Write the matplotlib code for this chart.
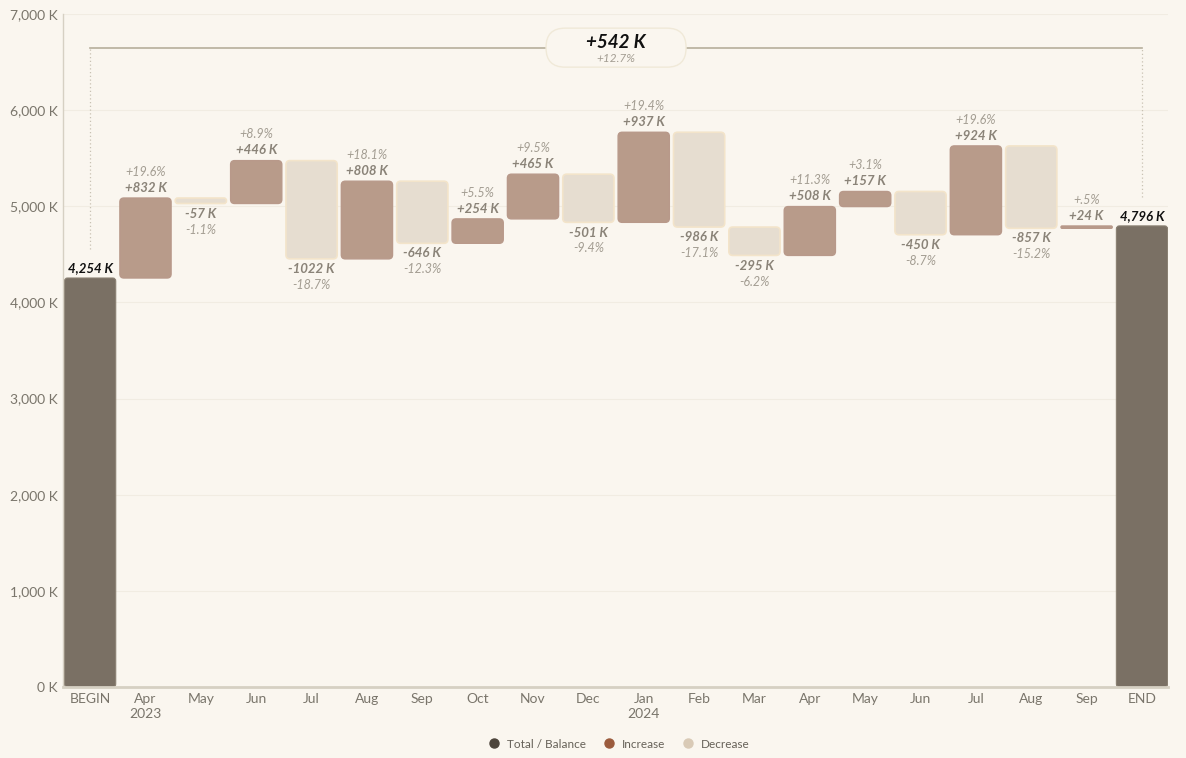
import matplotlib
matplotlib.use("Agg")
import matplotlib.pyplot as plt
from matplotlib.patches import FancyBboxPatch
from matplotlib.lines import Line2D
import numpy as np

# ---- data ----
categories = ["BEGIN", "Apr\n2023", "May", "Jun", "Jul", "Aug", "Sep", "Oct", "Nov", "Dec",
              "Jan\n2024", "Feb", "Mar", "Apr", "May", "Jun", "Jul", "Aug", "Sep", "END"]
begin_value = 4254
end_value = 4796
changes = [832, -57, 446, -1022, 808, -646, 254, 465, -501, 937, -986, -295, 508, 157, -450, 924, -857, 24]
pct_labels = ["+19.6%", "-1.1%", "+8.9%", "-18.7%", "+18.1%", "-12.3%", "+5.5%", "+9.5%", "-9.4%",
              "+19.4%", "-17.1%", "-6.2%", "+11.3%", "+3.1%", "-8.7%", "+19.6%", "-15.2%", "+.5%"]
total_change_label = "+542 K"
total_change_pct = "+12.7%"
yticks = [0, 1000, 2000, 3000, 4000, 5000, 6000, 7000]
bracket_level = 6650

# ---- style ----
BG = "#faf6ef"
C_TOTAL = "#7a7064"
C_INC = "#b89b8a"
C_INC_EDGE = "#b8998a"
C_DEC = "#e6ddd0"
C_DEC_EDGE = "#f3e4ca"
TXT = "#8a8378"
TXT_LIGHT = "#a39d92"

plt.rcParams['font.family'] = ['Lato', 'DejaVu Sans']

W, H = 1186, 758
fig = plt.figure(figsize=(W / 100, H / 100), dpi=100, facecolor=BG)
ax = fig.add_axes([63 / W, 1 - 687 / H, (1168 - 63) / W, (687 - 14) / H])
ax.set_facecolor(BG)

n = len(categories)
x = np.arange(n)
ax.set_xlim(-0.49, n - 1 + 0.47)
ax.set_ylim(0, 7000)

px_x = (ax.get_xlim()[1] - ax.get_xlim()[0]) / (1168 - 63)
px_y = 7000 / (687 - 14)
aspect = px_y / px_x

starts = [begin_value]
for c in changes[:-1]:
    starts.append(starts[-1] + c)
starts = np.array(starts)
ends = starts + np.array(changes)

width = 0.925

def rbar(xc, y0, y1, fc, ec, lw=1.0, r_px=4, alpha=1.0, z=2):
    lo, hi = min(y0, y1), max(y0, y1)
    h = hi - lo
    w = width
    r = min(r_px * px_x, (h / aspect) / 2.0 * 0.95)
    r = max(r, 0.0)
    p = FancyBboxPatch((xc - w / 2, lo), w, h,
                       boxstyle=f"round,pad=0,rounding_size={r}",
                       mutation_aspect=aspect, facecolor=fc, edgecolor=ec,
                       linewidth=lw, alpha=alpha, zorder=z)
    ax.add_patch(p)

rbar(x[0], 0, begin_value, C_TOTAL, "#8a8072", lw=0.8, r_px=3)
rbar(x[-1], 0, end_value, C_TOTAL, "#8a8072", lw=0.8, r_px=3)

for i, (s, e, c, pl) in enumerate(zip(starts, ends, changes, pct_labels)):
    xi = x[i + 1]
    amt = f"{c:+d} K"
    if c >= 0:
        rbar(xi, s, e, C_INC, C_INC_EDGE, lw=1.0)
        ax.annotate(amt, (xi, e), xytext=(0, 3), textcoords="offset points",
                    ha="center", va="bottom", fontsize=9.5, fontweight="bold",
                    fontstyle="italic", color=TXT)
        ax.annotate(pl, (xi, e), xytext=(0, 14.5), textcoords="offset points",
                    ha="center", va="bottom", fontsize=9, fontstyle="italic",
                    color=TXT_LIGHT)
    else:
        rbar(xi, s, e, C_DEC, C_DEC_EDGE, lw=1.2)
        ax.annotate(amt, (xi, e), xytext=(0, -3), textcoords="offset points",
                    ha="center", va="top", fontsize=9.5, fontweight="bold",
                    fontstyle="italic", color=TXT)
        ax.annotate(pl, (xi, e), xytext=(0, -14.5), textcoords="offset points",
                    ha="center", va="top", fontsize=9, fontstyle="italic",
                    color=TXT_LIGHT)

for xi, v in [(x[0], begin_value), (x[-1], end_value)]:
    ax.annotate(f"{v:,} K", (xi, v), xytext=(0, 3), textcoords="offset points",
                ha="center", va="bottom", fontsize=9.5, fontweight="bold",
                fontstyle="italic", color="#111111")

# bracket
ax.plot([x[0], x[-1]], [bracket_level, bracket_level], color="#b6ae9b", lw=1.2, zorder=3)
ax.plot([x[0], x[0]], [begin_value + 300, bracket_level], color="#c9c2b3", lw=0.9,
        ls=(0, (1, 2)), zorder=3)
ax.plot([x[-1], x[-1]], [end_value + 300, bracket_level], color="#c9c2b3", lw=0.9,
        ls=(0, (1, 2)), zorder=3)

mid = (x[0] + x[-1]) / 2
fig.canvas.draw()
cx, cy = ax.transData.transform((mid, bracket_level))
pw, ph = 140, 39
pill = FancyBboxPatch(((cx - pw / 2) / 100, (cy - ph / 2) / 100), pw / 100, ph / 100,
                      boxstyle="round,pad=0,rounding_size=0.19",
                      transform=fig.dpi_scale_trans, facecolor=BG, edgecolor="#f0e9d8",
                      linewidth=1.0, zorder=5)
fig.add_artist(pill)
fig.text(cx / W, (cy + 5) / H, total_change_label, ha="center", va="center",
         fontsize=13.5, fontweight="bold", fontstyle="italic", color="#111111", zorder=6)
fig.text(cx / W, (cy - 11) / H, total_change_pct, ha="center", va="center",
         fontsize=8.5, fontstyle="italic", color=TXT_LIGHT, zorder=6)

# axes styling
ax.set_xticks(x)
ax.set_xticklabels(categories, fontsize=10, color="#7a756b", linespacing=1.3)
ax.set_yticks(yticks)
ax.set_yticklabels([f"{v:,} K" for v in yticks], fontsize=10, color="#7a756b")
ax.tick_params(axis="both", length=0, pad=4)
ax.grid(axis="y", color="#f1ece2", lw=0.8, zorder=0)
ax.set_axisbelow(True)
for sp in ["top", "right"]:
    ax.spines[sp].set_visible(False)
ax.spines["left"].set_color("#d6d0c3")
ax.spines["left"].set_linewidth(1.0)
ax.spines["bottom"].set_color("#d6d0c3")
ax.spines["bottom"].set_linewidth(2.0)

# legend
handles = [Line2D([], [], marker="o", ls="", markersize=6.5, color="#4d453c"),
           Line2D([], [], marker="o", ls="", markersize=6.5, color="#9b5b3d"),
           Line2D([], [], marker="o", ls="", markersize=6.5, color="#d9cab6")]
fig.legend(handles, ["Total / Balance", "Increase", "Decrease"], loc="center",
           bbox_to_anchor=(616 / W, 1 - 744 / H), ncol=3, frameon=False, fontsize=8.5,
           labelcolor="#666158", handletextpad=0.1, columnspacing=0.9)

fig.savefig("out.png", dpi=100, facecolor=BG)
